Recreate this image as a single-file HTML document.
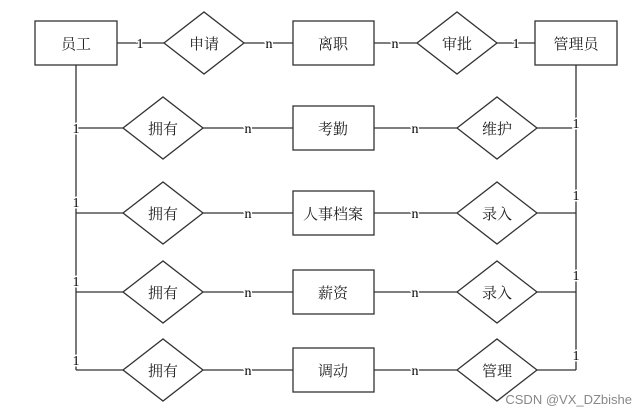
<!DOCTYPE html>
<html><head><style>body{margin:0;background:#fff}svg{display:block}</style></head><body>
<svg width="644" height="417" xmlns="http://www.w3.org/2000/svg" font-family="Liberation Serif, Noto Serif CJK SC, serif" font-size="15">
<g stroke="#333" stroke-width="1.3" fill="#fff">
<line x1="117" y1="43" x2="535" y2="43"/>
<line x1="76" y1="65" x2="76" y2="370"/>
<line x1="576" y1="65" x2="576" y2="370"/>
<line x1="76" y1="128" x2="576" y2="128"/>
<line x1="76" y1="213" x2="576" y2="213"/>
<line x1="76" y1="292" x2="576" y2="292"/>
<line x1="76" y1="370" x2="576" y2="370"/>
<rect x="35" y="21" width="82" height="44"/>
<rect x="293" y="21" width="81" height="44"/>
<rect x="535" y="21" width="82" height="44"/>
<polygon points="164,43 204,12 244,43 204,74"/>
<polygon points="417,43 457,12 497,43 457,74"/>
<polygon points="123,128 163,97 203,128 163,159"/>
<polygon points="123,213 163,182 203,213 163,244"/>
<polygon points="123,292 163,261 203,292 163,323"/>
<polygon points="123,370 163,339 203,370 163,401"/>
<polygon points="457,128 497,97 537,128 497,159"/>
<polygon points="457,213 497,182 537,213 497,244"/>
<polygon points="457,292 497,261 537,292 497,323"/>
<polygon points="457,370 497,339 537,370 497,401"/>
<rect x="293" y="106" width="81" height="44"/>
<rect x="293" y="191" width="81" height="44"/>
<rect x="293" y="270" width="81" height="44"/>
<rect x="293" y="348" width="81" height="44"/>
</g>
<g text-anchor="middle" fill="#222">
<text x="76" y="49">员工</text><text x="204" y="49">申请</text><text x="333" y="49">离职</text><text x="457" y="49">审批</text><text x="576" y="49">管理员</text>
<text x="163" y="134">拥有</text><text x="333" y="134">考勤</text><text x="497" y="134">维护</text>
<text x="163" y="219">拥有</text><text x="333" y="219">人事档案</text><text x="497" y="219">录入</text>
<text x="163" y="298">拥有</text><text x="333" y="298">薪资</text><text x="497" y="298">录入</text>
<text x="163" y="376">拥有</text><text x="333" y="376">调动</text><text x="497" y="376">管理</text>
</g>
<g text-anchor="middle" fill="#000" font-size="14" stroke="#fff" stroke-width="3" paint-order="stroke">
<text x="140" y="48">1</text>
<text x="269" y="48">n</text>
<text x="395" y="48">n</text>
<text x="516" y="48">1</text>
<text x="76" y="133">1</text><text x="76" y="207">1</text><text x="76" y="286">1</text><text x="76" y="365">1</text>
<text x="248" y="133">n</text><text x="248" y="218">n</text><text x="248" y="297">n</text><text x="248" y="375">n</text>
<text x="415" y="133">n</text><text x="415" y="218">n</text><text x="415" y="297">n</text><text x="415" y="375">n</text>
<text x="576" y="128">1</text><text x="576" y="200">1</text><text x="576" y="280">1</text><text x="576" y="360">1</text>
</g>
<text x="632" y="404" text-anchor="end" font-family="Liberation Sans, sans-serif" font-size="13" fill="#888">CSDN @VX_DZbishe</text>
</svg>
</body></html>
